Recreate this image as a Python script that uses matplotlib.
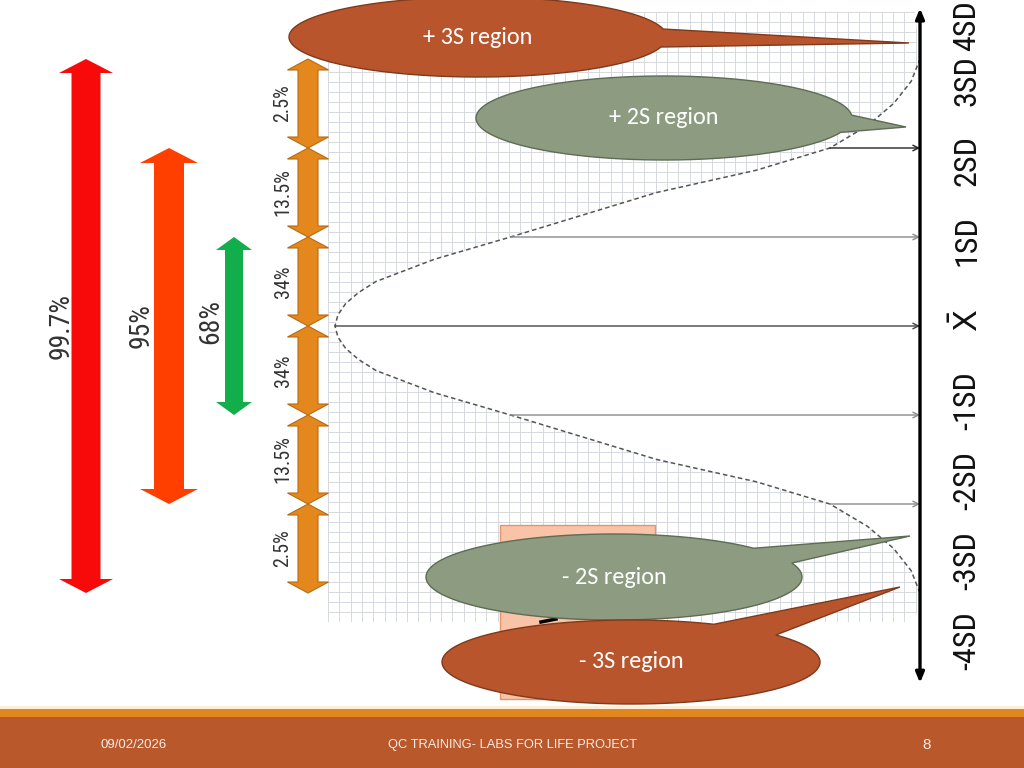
import numpy as np
import matplotlib
matplotlib.use("Agg")
import matplotlib.pyplot as plt
from matplotlib.patches import Polygon, Rectangle
from matplotlib import font_manager as fm

# ---------------- data ----------------
sd_label_values = [4, 3, 2, 1, 0, -1, -2, -3, -4]
sd_label_texts = ["4SD", "3SD", "2SD", "1SD", r"$\bar{\mathrm{X}}$", "-1SD", "-2SD", "-3SD", "-4SD"]

band_edges = [3, 2, 1, 0, -1, -2, -3]
band_labels = ["2.5%", "13.5%", "34%", "34%", "13.5%", "2.5%"]

coverage_sd = [3, 2, 1]
coverage_labels = ["99.7%", "95%", "68%"]
coverage_colors = ["#F80A0A", "#FF3F00", "#12AE4C"]

# half bell curve (relative density), mirrored below the mean
curve_sd_half = [0, 0.125, 0.25, 0.375, 0.5, 0.75, 1.0, 1.25, 1.5, 1.75, 2.0, 2.25, 2.5, 2.75, 3.0]
curve_rel_half = [1.0, 0.995, 0.982, 0.96, 0.93, 0.83, 0.70, 0.575, 0.45, 0.28, 0.154, 0.09, 0.045, 0.015, 0.0]

arrow_sd = [2, 1, 0, -1, -2]
arrow_colors = ["#222222", "#8a8a8a", "#444444", "#8a8a8a", "#8a8a8a"]

callout_texts = ["+ 3S region", "+ 2S region", "- 2S region", "- 3S region"]

footer_date = "09/02/2026"
footer_title = "QC TRAINING- LABS FOR LIFE PROJECT"
footer_page = "8"

# ---------------- fonts ----------------
names = {f.name for f in fm.fontManager.ttflist}
def pick(cands):
    for c in cands:
        if c in names:
            return c
    return "DejaVu Sans"
NARROW = pick(["Liberation Sans Narrow", "Roboto Condensed", "Liberation Sans"])
CALL = pick(["Carlito", "Lato", "Open Sans"])
FOOT = pick(["Liberation Sans Narrow", "Liberation Sans"])

# ---------------- figure ----------------
W, H = 1024, 768
fig = plt.figure(figsize=(W / 100, H / 100), dpi=100)
ax = fig.add_axes([0, 0, 1, 1])
ax.set_xlim(0, W)
ax.set_ylim(H, 0)
ax.set_autoscale_on(False)
ax.axis("off")
fig.patch.set_facecolor("white")

# data axes (density horizontally, SD vertically) sharing the same area
dax = fig.add_axes([0, 0, 1, 1])
dax.set_xlim(920 / 585, -104 / 585)
dax.set_ylim(-442 / 89, 326 / 89)
dax.axis("off")
dax.patch.set_visible(False)
D = dax.transData

def to_px(r, sd):
    return ax.transData.inverted().transform(D.transform((r, sd)))

def sd_px(sd):
    return to_px(0, sd)[1]

# full curve
curve_sd = [-s for s in curve_sd_half[::-1]] + curve_sd_half[1:]
curve_rel = curve_rel_half[::-1] + curve_rel_half[1:]

# ---------------- grid (left of curve) ----------------
gx0, gx1, gy0, gy1 = 328, 915, 12, 622
curve_px = [to_px(r, s) for r, s in zip(curve_rel, curve_sd)]
clip_pts = [(gx0, gy0), (gx0, gy1), (gx1, gy1)] + curve_px + [(gx1, gy0)]
clip_poly = Polygon(clip_pts, closed=True, transform=ax.transData, fc="none", ec="none")
for x in np.arange(gx0, gx1 + 1, 11.3):
    ln, = ax.plot([x, x], [gy0, gy1], color="#d6d9de", lw=0.7, zorder=1)
    ln.set_clip_path(clip_poly)
for y in np.arange(gy0, gy1 + 1, 10):
    ln, = ax.plot([gx0, gx1], [y, y], color="#d6d9de", lw=0.7, zorder=1)
    ln.set_clip_path(clip_poly)

# peach rectangle
ax.add_patch(Rectangle((500, 525), 155, 174, fc="#F8C3A6", ec="#E3946B", lw=1, zorder=2))
ax.plot([541, 556], [622, 619], color="black", lw=2.5, zorder=2.5)

# ---------------- bell curve ----------------
ax.plot(curve_rel, curve_sd, transform=D, color="#555555", lw=1.1,
        linestyle=(0, (3, 2)), zorder=3)

# arrows from curve to axis
for s, c in zip(arrow_sd, arrow_colors):
    r = curve_rel[curve_sd.index(s)]
    ax.annotate("", xy=(0, s), xycoords=D, xytext=(r, s), textcoords=D,
                arrowprops=dict(arrowstyle="->", color=c, lw=1.0,
                                shrinkA=0, shrinkB=0), zorder=3)

# vertical SD axis
ax.annotate("", xy=(0, 3.57), xycoords=D, xytext=(0, -4.01), textcoords=D,
            arrowprops=dict(arrowstyle="<|-|>,head_length=0.6,head_width=0.25",
                            color="black", lw=2.4, shrinkA=0, shrinkB=0), zorder=4)

# SD labels
for v, t in zip(sd_label_values, sd_label_texts):
    y = max(sd_px(v * 0.9 + 0.06), 26)
    ax.text(967, y, t, rotation=90, ha="center", va="center", fontsize=23,
            family=NARROW, color="#111111", zorder=4)

# ---------------- double arrows ----------------
def double_arrow(xc, y0, y1, bw, hw, hl, fc, ec, z):
    pts = [(xc, y0), (xc + hw, y0 + hl), (xc + bw, y0 + hl), (xc + bw, y1 - hl),
           (xc + hw, y1 - hl), (xc, y1), (xc - hw, y1 - hl), (xc - bw, y1 - hl),
           (xc - bw, y0 + hl), (xc - hw, y0 + hl)]
    ax.add_patch(Polygon(pts, closed=True, fc=fc, ec=ec, lw=0.8, zorder=z))

for i, lab in enumerate(band_labels):
    y0, y1 = sd_px(band_edges[i]), sd_px(band_edges[i + 1])
    double_arrow(308, y0, y1, 10, 20.5, 11, "#E4881E", "#B86A10", 5)
    ax.text(283, (y0 + y1) / 2, lab, rotation=90, ha="center", va="center",
            fontsize=14.5, family=NARROW, color="#333333", zorder=5)

cov_x = [86, 169, 234]
cov_text_x = [61, 141, 211]
cov_geom = [(14.5, 27, 14), (15, 29, 15), (9, 18, 13)]
for s, lab, c, xc, tx, g in zip(coverage_sd, coverage_labels, coverage_colors,
                                 cov_x, cov_text_x, cov_geom):
    y0, y1 = sd_px(s), sd_px(-s)
    double_arrow(xc, y0, y1, g[0], g[1], g[2], c, "none", 5)
    ax.text(tx, sd_px(0) - (4 if lab == "68%" else 0), lab, rotation=90,
            ha="center", va="center", fontsize=20, family=NARROW,
            color="#333333", zorder=5)

# ---------------- callouts ----------------
def callout(cx, cy, a, b, t1, t2, tip, fc, ec, text, z):
    th = np.radians(np.linspace(t2, t1 + 360, 240))
    pts = list(zip(cx + a * np.cos(th), cy + b * np.sin(th))) + [tip]
    ax.add_patch(Polygon(pts, closed=True, fc=fc, ec=ec, lw=1.0, zorder=z))
    ax.text(cx, cy, text, ha="center", va="center", color="white",
            fontsize=17.5, family=CALL, zorder=z + 0.1)

BROWN, BROWN_E = "#B9552C", "#7E3A1C"
SAGE, SAGE_E = "#8D9C80", "#5E6B55"
callout(478, 37, 189, 40, -11.5, 14.5, (909, 43), BROWN, BROWN_E, callout_texts[0], 6)
callout(664, 118, 188, 42, -4, 20, (906, 127), SAGE, SAGE_E, callout_texts[1], 6)
callout(614, 577, 188, 43, -42, -19, (910, 536), SAGE, SAGE_E, callout_texts[2], 6)
callout(631, 662, 189, 42, -64, -40, (900, 587), BROWN, BROWN_E, callout_texts[3], 7)

# ---------------- footer ----------------
ax.add_patch(Rectangle((0, 706), W, 3, fc="#FBEFD9", ec="none", zorder=8))
ax.add_patch(Rectangle((0, 709), W, 8, fc="#E2861E", ec="none", zorder=8))
ax.add_patch(Rectangle((0, 717), W, 51, fc="#B9582B", ec="none", zorder=8))
ax.text(134, 745, footer_date, ha="center", va="center", color="#F7ECE6",
        fontsize=9.5, family=FOOT, zorder=9)
ax.text(512, 745, footer_title, ha="center", va="center", color="#F7ECE6",
        fontsize=9.3, family=FOOT, zorder=9)
ax.text(927, 745, footer_page, ha="center", va="center", color="#F7ECE6",
        fontsize=11, family=FOOT, zorder=9)

fig.savefig("out.png", dpi=100, facecolor="white")
